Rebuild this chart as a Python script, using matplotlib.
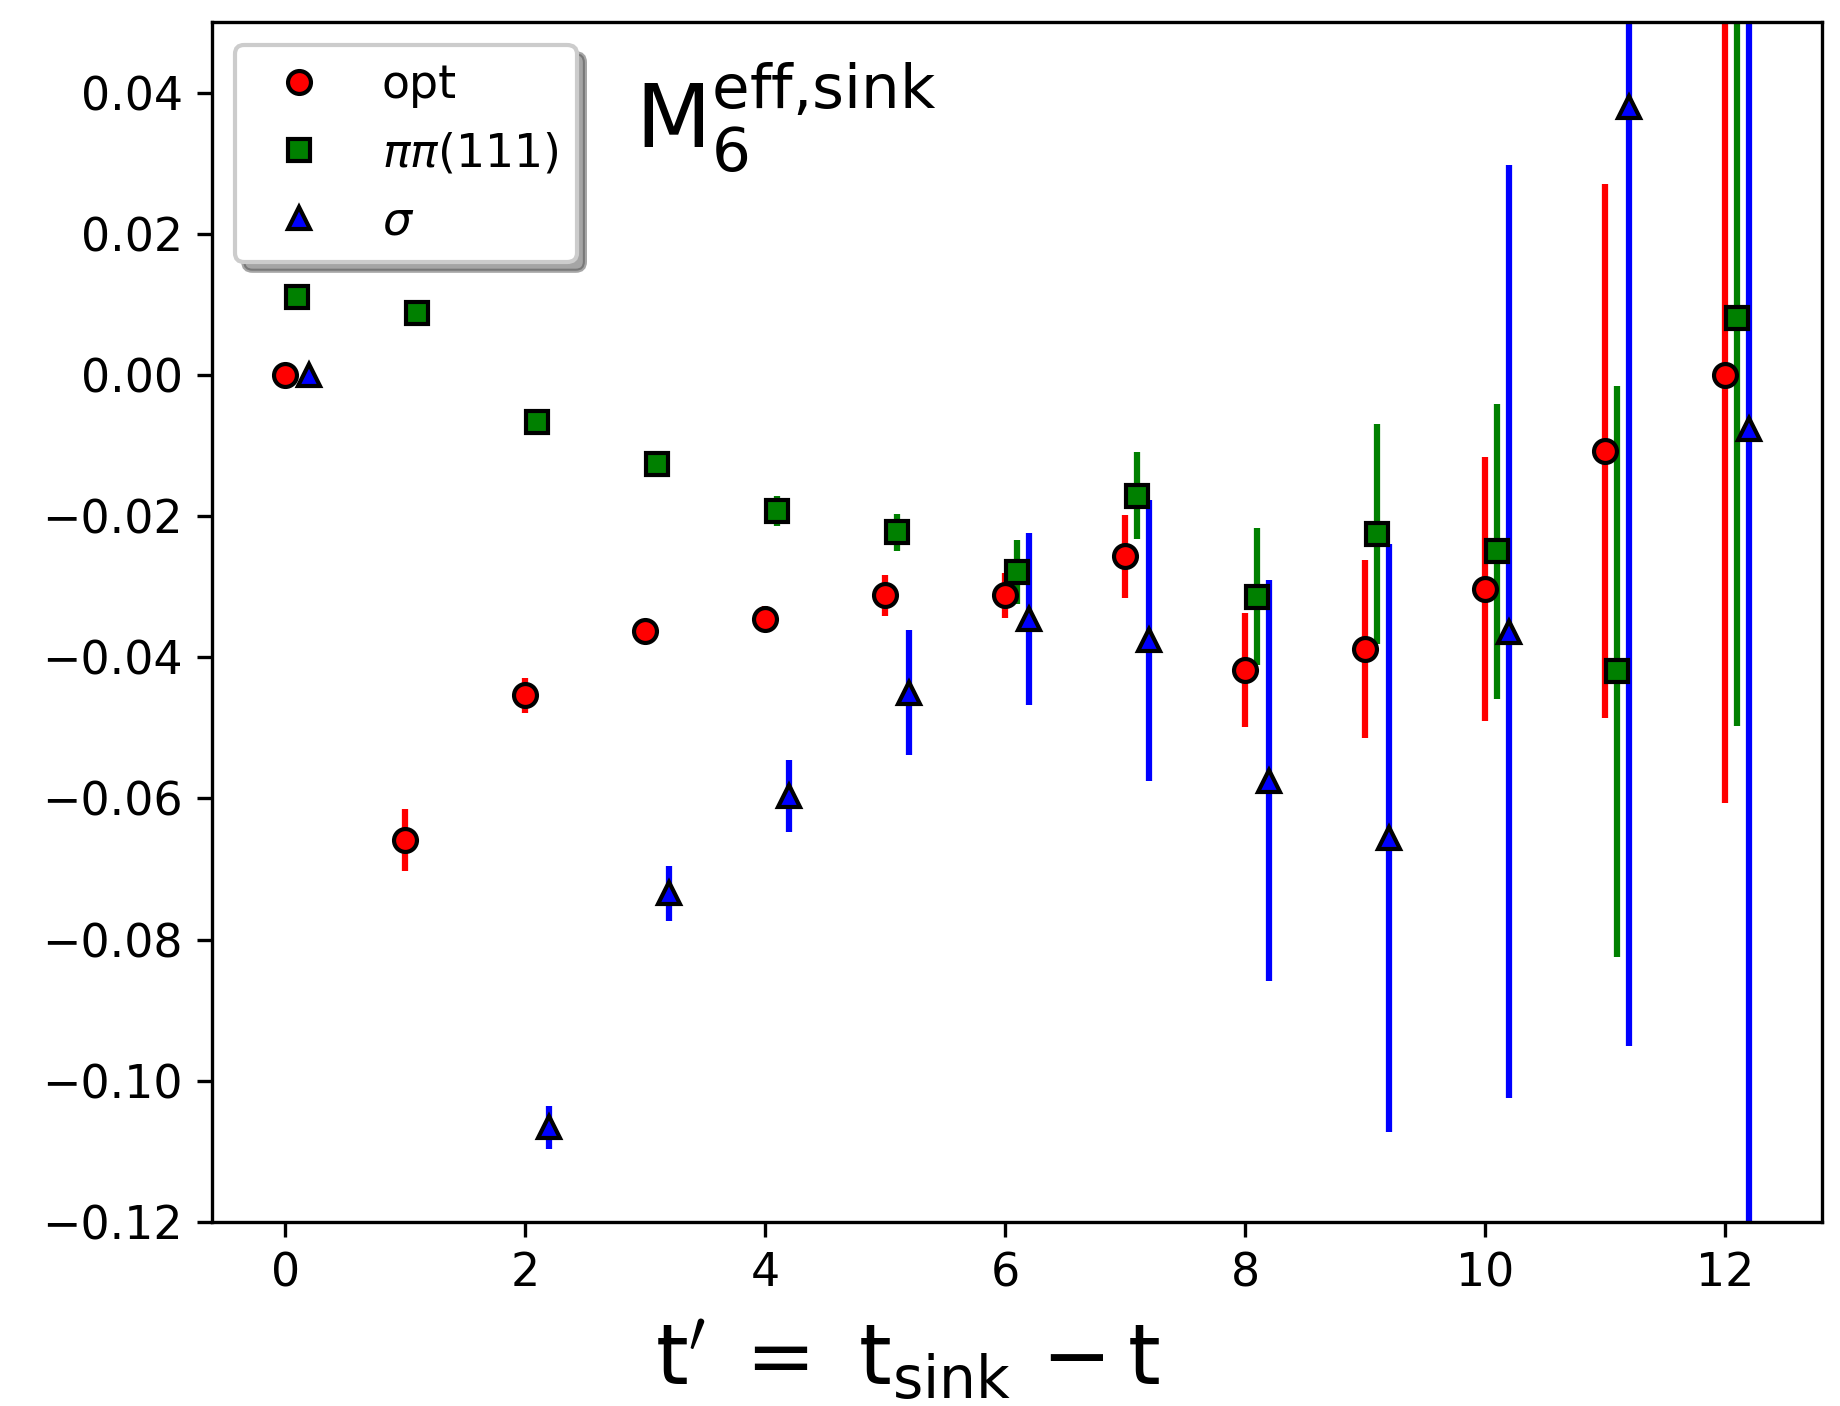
import numpy as np
import matplotlib
matplotlib.use('Agg')
import matplotlib.pyplot as plt

# t' = t_sink - t
t = np.arange(13)

# opt operator
opt_val = [0.0, -0.0659, -0.0454, -0.0363, -0.0346, -0.0312, -0.0312,
           -0.0257, -0.0418, -0.0388, -0.0303, -0.0108, 0.0]
opt_err = [0.0005, 0.0044, 0.0025, 0.0015, 0.0018, 0.0029, 0.0032,
           0.0059, 0.0081, 0.0126, 0.0187, 0.0378, 0.0606]

# pi pi (111) operator
pp_val = [0.0110, 0.0088, -0.0067, -0.0126, -0.0193, -0.0223, -0.0279,
          -0.0171, -0.0314, -0.0225, -0.0250, -0.0420, 0.0081]
pp_err = [0.0008, 0.0010, 0.0010, 0.0012, 0.0021, 0.0026, 0.0045,
          0.0062, 0.0097, 0.0156, 0.0209, 0.0404, 0.0578]

# sigma operator (t'=1 missing)
sig_val = [0.0, np.nan, -0.1066, -0.0734, -0.0596, -0.0450, -0.0346,
           -0.0376, -0.0575, -0.0656, -0.0364, 0.0380, -0.0077]
sig_err = [0.0005, np.nan, 0.0030, 0.0039, 0.0051, 0.0088, 0.0122,
           0.0199, 0.0284, 0.0416, 0.0661, 0.1331, 0.1400]

series = [
    (opt_val, opt_err, 0.0, 'r', 'o', 'opt'),
    (pp_val, pp_err, 0.1, 'g', 's', r'$\pi\pi$(111)'),
    (sig_val, sig_err, 0.2, 'b', '^', r'$\sigma$'),
]

fig = plt.figure(figsize=(1840 / 300, 1406 / 300), dpi=300)
ax = fig.add_axes([212 / 1840, 1 - 1222 / 1406, 1610 / 1840, 1200 / 1406])

# error bars first, markers on top
for val, err, dx, col, mk, lab in series:
    ax.errorbar(t + dx, val, yerr=err, fmt='none', ecolor=col,
                elinewidth=1.5, capsize=0)
for val, err, dx, col, mk, lab in series:
    ax.plot(t + dx, val, linestyle='none', marker=mk, color=col,
            markersize=5.5, markeredgecolor='k', markeredgewidth=1.0,
            label=lab)

ax.set_ylim(-0.12, 0.05)
ax.set_yticks(np.arange(-0.12, 0.041, 0.02))
ax.tick_params(labelsize=11)

ax.text(0.263, 0.895, r'$\mathrm{M}_{6}^{\mathrm{eff{,}sink}}$',
        transform=ax.transAxes, fontsize=21)
ax.set_xlabel(r"$\mathrm{t}'\;=\ \mathrm{t}_{\mathrm{sink}}\,-\mathrm{t}$",
              fontsize=20, x=0.432, labelpad=5)

ax.legend(loc='upper left', shadow=True, fancybox=True, framealpha=1,
          numpoints=1, fontsize=11)

fig.savefig('out.png', dpi=300)
